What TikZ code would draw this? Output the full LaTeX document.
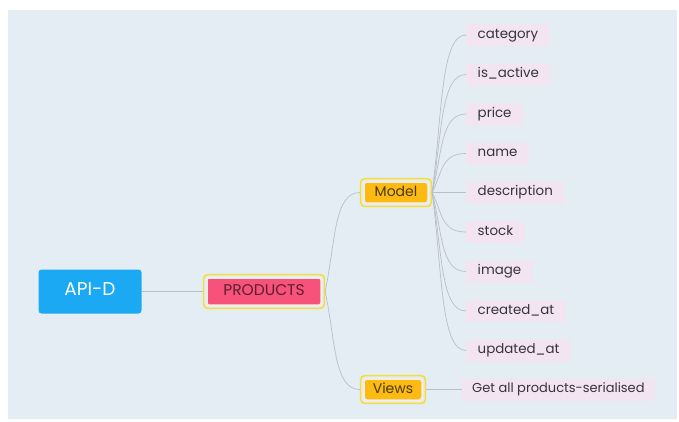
\documentclass[tikz,border=0pt]{standalone}
\usepackage{fontspec}
\setmainfont{Poppins}
\usetikzlibrary{calc,fit}
\definecolor{bgpanel}{HTML}{E4ECF4}
\definecolor{apiblue}{HTML}{1CA9F4}
\definecolor{prodpink}{HTML}{F7527A}
\definecolor{prodtext}{HTML}{5E1E30}
\definecolor{modorange}{HTML}{FDBA13}
\definecolor{modtext}{HTML}{4A3A10}
\definecolor{selyellow}{HTML}{F6DE3A}
\definecolor{selgap}{HTML}{F3EEE6}
\definecolor{leaffill}{HTML}{F3E4F1}
\definecolor{leaftext}{HTML}{34343F}
\definecolor{connc}{HTML}{B9BFC6}
\tikzset{
  rootbox/.style={fill=apiblue, text=white, rounded corners=3pt, minimum width=103pt, minimum height=44pt, inner sep=0pt, text height=0.78em, text depth=0pt, font=\fontsize{18.5}{20}\selectfont},
  prodbox/.style={fill=prodpink, text=prodtext, draw=selgap, line width=1.5pt, rounded corners=2pt, minimum width=114pt, minimum height=27pt, inner sep=0pt, text height=0.8em, text depth=0pt, font=\fontsize{15.5}{17}\selectfont},
  subbox/.style={fill=modorange, text=modtext, draw=selgap, line width=1.5pt, rounded corners=3pt, minimum height=21pt, inner sep=0pt, text height=0.82em, text depth=0.05em, font=\fontsize{14}{16}\selectfont},
  selframe/.style={draw=selyellow, line width=1.6pt, rounded corners=4pt, inner sep=2.6pt},
  leafbox/.style={fill=leaffill, text=leaftext, anchor=west, minimum height=22pt, inner xsep=11.5pt, inner ysep=0pt, text height=0.88em, text depth=0.22em, rounded corners=2pt, font=\fontsize{13.4}{15}\selectfont},
  conn/.style={draw=connc, line width=0.7pt}
}
\newcommand\curvelink[2]{\draw[conn] let \p1=(#1.east), \p2=(#2.west) in (\p1) .. controls ({\x1+0.3*(\x2-\x1)},{\y1+0.5*(\y2-\y1)}) and ({\x1+0.25*(\x2-\x1)},\y2) .. (\p2);}
\begin{document}
\begin{tikzpicture}[x=1pt,y=-1pt]
\useasboundingbox (0,0) rectangle (679,421);
\fill[white] (0,0) rectangle (679,421);
\fill[bgpanel] (8,10) rectangle (677,419);
% nodes
\node[rootbox] (api) at (90,291.5) {API-D};
\node[prodbox] (prod) at (264,291.5) {PRODUCTS};
\node[selframe, fit=(prod)] (prodf) {};
\node[subbox, minimum width=64pt] (model) at (396,192.5) {Model};
\node[selframe, fit=(model)] (modelf) {};
\node[subbox, minimum width=58pt] (views) at (393,389.5) {Views};
\node[selframe, fit=(views)] (viewsf) {};
\node[leafbox] (l1) at (466,35) {category};
\node[leafbox] (l2) at (466,74.5) {is\_active};
\node[leafbox] (l3) at (466,114) {price};
\node[leafbox] (l4) at (466,153.5) {name};
\node[leafbox] (l5) at (466,192.5) {description};
\node[leafbox] (l6) at (466,232) {stock};
\node[leafbox] (l7) at (466,271.5) {image};
\node[leafbox] (l8) at (466,311) {created\_at};
\node[leafbox] (l9) at (466,350.5) {updated\_at};
\node[leafbox, inner xsep=10pt, font=\fontsize{13}{15}\selectfont] (get) at (462,389.5) {Get all products-serialised};
% connectors
\draw[conn] (api.east) -- (prodf.west);
\curvelink{prodf}{modelf}
\curvelink{prodf}{viewsf}
\foreach \i in {1,...,9}{\curvelink{modelf}{l\i}}
\draw[conn] (viewsf.east) -- (get.west);
\end{tikzpicture}
\end{document}
